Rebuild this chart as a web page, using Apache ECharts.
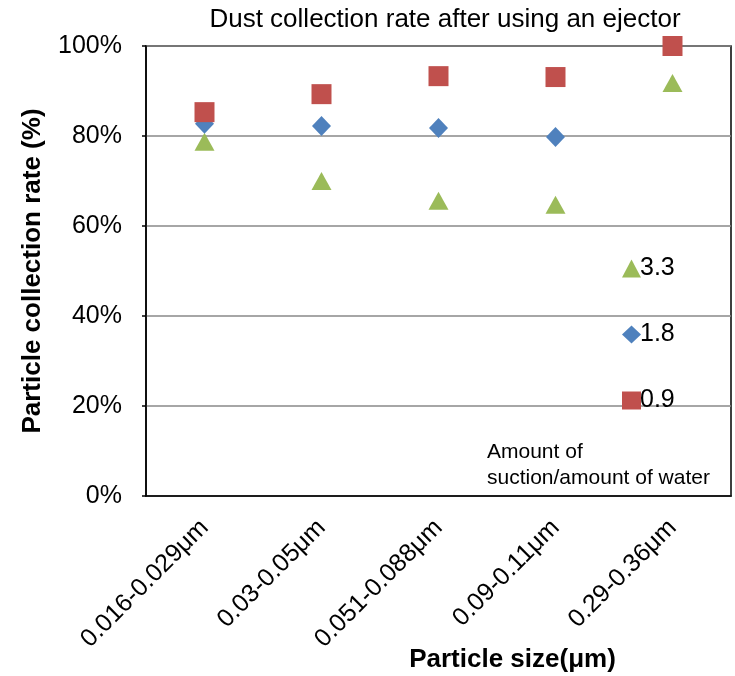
<!DOCTYPE html>
<html>
<head>
<meta charset="utf-8">
<script src="https://cdn.jsdelivr.net/npm/echarts@6/dist/echarts.min.js"></script>
<style>
  html, body { margin: 0; padding: 0; background: #fff; }
  #chart { width: 735px; height: 676px; }
</style>
</head>
<body>
<div id="chart"></div>
<script>
const categories = ['0.016-0.029μm', '0.03-0.05μm', '0.051-0.088μm', '0.09-0.11μm', '0.29-0.36μm']
const ratio33 = [78.7, 70.0, 65.6, 64.7, 91.8]
const ratio18 = [82.7, 82.2, 81.8, 79.8, null]
const ratio09 = [85.3, 89.3, 93.3, 93.1, 100]
const yTicks = [0, 20, 40, 60, 80, 100]

const font = 'Arial, "Liberation Sans", sans-serif'
const chart = echarts.init(document.getElementById('chart'))

const option = {
  animation: false,
  title: {
    text: 'Dust collection rate after using an ejector',
    left: 440,
    textAlign: 'center',
    top: 2,
    textStyle: { fontFamily: font, fontSize: 26, fontWeight: 'normal', color: '#000' }
  },
  grid: {
    left: 146, right: 4, top: 46, bottom: 180,
    outerBoundsMode: 'none',
    containLabel: false,
    show: true, borderColor: '#000', borderWidth: 1.5
  },
  legend: {
    orient: 'vertical',
    left: 617,
    top: 251,
    itemWidth: 19,
    itemHeight: 18,
    itemGap: 41,
    textStyle: { fontFamily: font, fontSize: 25, color: '#000', padding: [0, 0, 0, -6] },
    data: ['3.3', '1.8', '0.9']
  },
  graphic: [{
    type: 'text',
    left: 487,
    top: 439,
    style: {
      text: 'Amount of\nsuction/amount of water',
      font: '21px ' + font,
      lineHeight: 26,
      fill: '#000'
    }
  }],
  xAxis: {
    type: 'category',
    data: categories,
    name: 'Particle size(μm)',
    nameLocation: 'middle',
    nameGap: 151,
    nameMoveOverlap: false,
    nameTextStyle: {
      fontFamily: font, fontSize: 26, fontWeight: 'bold', color: '#000',
      padding: [0, 0, 0, 148]
    },
    axisLine: { lineStyle: { color: '#000', width: 1.5 } },
    axisTick: { inside: true, length: 6, lineStyle: { color: '#000', width: 1.5 } },
    axisLabel: {
      rotate: 45, interval: 0, margin: 28,
      fontFamily: font, fontSize: 25, color: '#000'
    },
    splitLine: { show: false }
  },
  yAxis: {
    type: 'value',
    min: yTicks[0],
    max: yTicks[yTicks.length - 1],
    interval: yTicks[1] - yTicks[0],
    name: 'Particle collection rate (%)',
    nameLocation: 'middle',
    nameGap: 100,
    nameMoveOverlap: false,
    nameTextStyle: { fontFamily: font, fontSize: 26, fontWeight: 'bold', color: '#000' },
    axisLine: { show: true, lineStyle: { color: '#000', width: 1.5 } },
    axisTick: { show: true, length: 4, lineStyle: { color: '#000', width: 1.5 } },
    axisLabel: { formatter: '{value}%', margin: 24, fontFamily: font, fontSize: 25, color: '#000' },
    splitLine: { lineStyle: { color: '#888', width: 1.5 } }
  },
  series: [
    {
      name: '3.3',
      type: 'scatter',
      symbol: 'triangle',
      symbolSize: [20, 18],
      data: ratio33,
      itemStyle: { color: '#9BBB59', opacity: 1 }
    },
    {
      name: '1.8',
      type: 'scatter',
      symbol: 'diamond',
      symbolSize: [19, 20],
      data: ratio18,
      itemStyle: { color: '#4F81BD', opacity: 1 }
    },
    {
      name: '0.9',
      type: 'scatter',
      symbol: 'rect',
      symbolSize: [20, 20],
      data: ratio09,
      itemStyle: { color: '#C0504D', opacity: 1 }
    }
  ]
}

chart.setOption(option)
</script>
</body>
</html>
